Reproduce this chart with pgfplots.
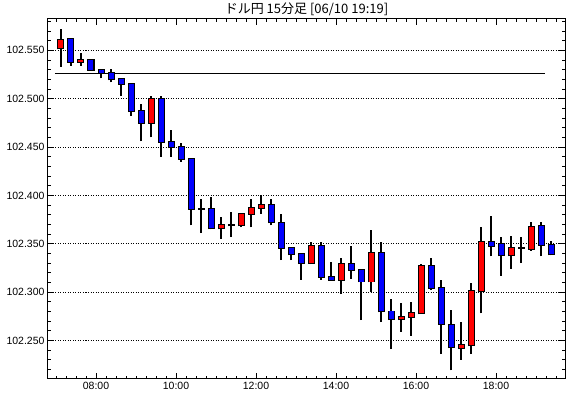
\documentclass[border=0pt]{standalone}
\usepackage{fontspec}
\setmainfont{Liberation Sans}
\newfontfamily\cjk{Noto Sans CJK JP}
\usepackage{pgfplots}
\usepackage{pgfplotstable}
\pgfplotsset{compat=1.18}

% up candles (close >= open), dojis included
\pgfplotstableread{
t O H L C
7.125 102.552 102.572 102.533 102.561
7.625 102.538 102.547 102.534 102.540
9.375 102.475 102.503 102.460 102.500
10.625 102.386 102.396 102.361 102.386
11.125 102.366 102.378 102.355 102.369
11.375 102.369 102.383 102.357 102.369
11.625 102.369 102.382 102.367 102.381
11.875 102.381 102.396 102.367 102.387
12.125 102.387 102.400 102.381 102.390
13.375 102.330 102.352 102.329 102.348
14.125 102.313 102.335 102.298 102.329
14.875 102.311 102.364 102.300 102.340
15.625 102.272 102.289 102.259 102.274
15.875 102.274 102.290 102.255 102.278
16.125 102.278 102.329 102.278 102.327
17.125 102.242 102.269 102.230 102.245
17.375 102.245 102.309 102.236 102.301
17.625 102.301 102.367 102.278 102.352
18.375 102.338 102.358 102.324 102.346
18.625 102.346 102.357 102.330 102.346
18.875 102.345 102.373 102.343 102.367
}\up

% down candles (close < open)
\pgfplotstableread{
t O H L C
7.375 102.562 102.562 102.534 102.538
7.875 102.540 102.540 102.530 102.530
8.125 102.530 102.530 102.521 102.527
8.375 102.527 102.531 102.517 102.520
8.625 102.520 102.521 102.503 102.515
8.875 102.515 102.515 102.482 102.487
9.125 102.487 102.494 102.456 102.475
9.625 102.500 102.503 102.440 102.455
9.875 102.455 102.468 102.440 102.450
10.125 102.450 102.454 102.435 102.438
10.375 102.438 102.438 102.369 102.386
10.875 102.386 102.398 102.365 102.366
12.375 102.390 102.396 102.369 102.372
12.625 102.372 102.381 102.333 102.346
12.875 102.346 102.347 102.333 102.339
13.125 102.339 102.339 102.313 102.330
13.625 102.348 102.352 102.313 102.316
13.875 102.316 102.331 102.313 102.313
14.375 102.329 102.348 102.314 102.323
14.625 102.323 102.324 102.271 102.311
15.125 102.340 102.352 102.269 102.280
15.375 102.280 102.293 102.241 102.272
16.375 102.327 102.335 102.302 102.304
16.625 102.304 102.313 102.236 102.267
16.875 102.266 102.282 102.219 102.243
17.875 102.352 102.379 102.337 102.348
18.125 102.350 102.357 102.317 102.338
19.125 102.368 102.373 102.337 102.349
19.375 102.349 102.353 102.338 102.339
}\down

\pgfplotsset{
  candle/.style={draw=none, mark=none,
    error bars/.cd, y dir=plus, y explicit, error mark=none,
    error bar style={#1}},
}

\begin{document}
\begin{tikzpicture}
\begin{axis}[
  at={(0,0)}, anchor=south west,
  scale only axis, width=517pt, height=360pt,
  xmin=6.8, xmax=19.725, ymin=102.2102, ymax=102.5824,
  axis line style={line width=1pt},
  xtick={8,10,12,14,16,18},
  xticklabels={08:00,10:00,12:00,14:00,16:00,18:00},
  minor xtick={7,7.25,...,19.5},
  ytick={102.25,102.3,102.35,102.4,102.45,102.5,102.55},
  minor ytick={102.22,102.23,...,102.58},
  y tick label style={/pgf/number format/.cd, fixed, fixed zerofill, precision=3, 1000 sep={}, /tikz/.cd},
  scaled y ticks=false,
  /pgf/number format/assume math mode=true,
  tick align=inside,
  major tick length=6pt, minor tick length=3pt,
  every tick/.style={black, line width=0.8pt},
  ymajorgrids,
  grid style={black, line width=0.8pt, dash pattern=on 1pt off 1.5pt},
  tick label style={font=\fontsize{10.5}{12}\selectfont},
  title={\cjk ドル円 15分足 [06/10 19:19]},
  title style={font=\fontsize{13}{15}\selectfont, yshift=-6pt},
]
% reference line
\addplot[black, line width=1pt] coordinates {(6.975,102.526) (19.225,102.526)};
% wicks
\addplot[candle={draw=black, line width=1.1pt}] table[x=t, y=L, y error expr=\thisrow{H}-\thisrow{L}] {\up};
\addplot[candle={draw=black, line width=1.1pt}] table[x=t, y=L, y error expr=\thisrow{H}-\thisrow{L}] {\down};
% body outlines
\addplot[candle={draw=black, line width=7pt}] table[x=t, y expr=\thisrow{O}-0.001, y error expr=\thisrow{C}-\thisrow{O}+0.002] {\up};
\addplot[candle={draw=black, line width=7pt}] table[x=t, y expr=\thisrow{C}-0.001, y error expr=\thisrow{O}-\thisrow{C}+0.002] {\down};
% body fills
\addplot[candle={draw=red, line width=5pt}] table[x=t, y=O, y error expr=\thisrow{C}-\thisrow{O}] {\up};
\addplot[candle={draw=blue, line width=5pt}] table[x=t, y=C, y error expr=\thisrow{O}-\thisrow{C}] {\down};
\end{axis}
\pgfresetboundingbox
\path (-48pt,-19pt) rectangle (522pt,379pt);
\end{tikzpicture}
\end{document}
